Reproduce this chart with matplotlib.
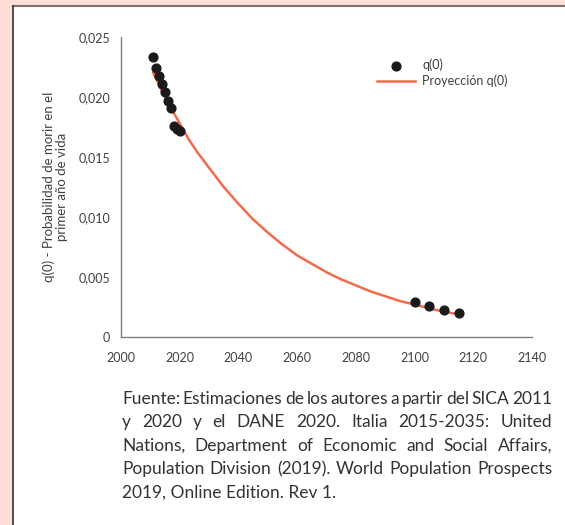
import matplotlib
matplotlib.use("Agg")
import matplotlib.pyplot as plt
from matplotlib.patches import Rectangle
from matplotlib.ticker import FuncFormatter

# --- Data ---
obs_years = [2011, 2012, 2013, 2014, 2015, 2016, 2017, 2018, 2019, 2020,
             2100, 2105, 2110, 2115]
obs_q0 = [0.02331, 0.02244, 0.02175, 0.02108, 0.02039, 0.01969, 0.01908,
          0.01758, 0.01736, 0.01719,
          0.00294, 0.00256, 0.00228, 0.00200]

proj_years = [2011, 2013, 2015, 2017, 2020, 2023, 2026, 2030, 2035, 2040,
              2045, 2050, 2055, 2060, 2065, 2070, 2075, 2080, 2085, 2090,
              2095, 2100, 2105, 2110, 2115]
proj_q0 = [0.0220, 0.0210, 0.0200, 0.0191, 0.0178, 0.0165, 0.0154, 0.0141,
           0.0125, 0.0111, 0.0098, 0.0087, 0.0077, 0.0068, 0.0061, 0.0054,
           0.0048, 0.0043, 0.0038, 0.0034, 0.0030, 0.0027, 0.0024, 0.0021,
           0.0019]

x_ticks = [2000, 2020, 2040, 2060, 2080, 2100, 2120, 2140]
y_ticks = [0, 0.005, 0.010, 0.015, 0.020, 0.025]

caption_lines = [
    "Fuente: Estimaciones de los autores a partir del SICA 2011",
    "y 2020 y el DANE 2020. Italia 2015-2035: United",
    "Nations, Department of Economic and Social Affairs,",
    "Population Division (2019). World Population Prospects",
    "2019, Online Edition. Rev 1.",
]

FONT = ["Lato", "DejaVu Sans"]
plt.rcParams["font.family"] = FONT

W, H = 565, 525
fig = plt.figure(figsize=(W / 100, H / 100), dpi=100)
fig.patch.set_facecolor("#fddfd7")

# white panel with grey border on top and left
fig.patches.append(Rectangle((13 / W, 0), 1, 1 - 6 / H, transform=fig.transFigure,
                             facecolor="white", edgecolor="none", zorder=-2))
fig.add_artist(plt.Line2D([12.5 / W, 1], [1 - 5.5 / H, 1 - 5.5 / H],
                          transform=fig.transFigure, color="#7a7070", lw=1.5, zorder=-1))
fig.add_artist(plt.Line2D([12.5 / W, 12.5 / W], [0, 1 - 5.5 / H],
                          transform=fig.transFigure, color="#3a3030", lw=1.2, zorder=-1))

ax = fig.add_axes([121 / W, 1 - 337 / H, (532 - 121) / W, 300 / H])
ax.set_zorder(2)
ax.set_facecolor("none")

ax.plot(proj_years, proj_q0, color="#f26b4a", lw=1.8, label="Proyección q(0)",
        zorder=2, solid_joinstyle="round")
ax.scatter(obs_years, obs_q0, s=40, color="#1a1a1a", label="q(0)", zorder=3)

ax.set_xlim(2000, 2140)
ax.set_ylim(0, 0.025)
ax.set_xticks(x_ticks)
ax.set_yticks(y_ticks)
ax.yaxis.set_major_formatter(FuncFormatter(
    lambda v, p: "0" if v == 0 else f"{v:.3f}".replace(".", ",")))

for s in ["top", "right"]:
    ax.spines[s].set_visible(False)
for s in ["left", "bottom"]:
    ax.spines[s].set_color("#808080")
    ax.spines[s].set_linewidth(1.0)
ax.tick_params(length=0, labelsize=9, labelcolor="#404040")
ax.tick_params(axis="x", pad=11)
ax.tick_params(axis="y", pad=8)

ax.set_ylabel("q(0) - Probabilidad de morir en el\nprimer año de vida",
              fontsize=9.5, color="#404040", labelpad=7, linespacing=1.15)

handles, labels = ax.get_legend_handles_labels()
ax.legend(handles[::-1], labels[::-1], loc="upper right",
          bbox_to_anchor=(514 / W, 1 - 52 / H), bbox_transform=fig.transFigure,
          frameon=False, fontsize=9, labelcolor="#404040",
          handlelength=3.0, handletextpad=0.6, borderpad=0, labelspacing=0.3)

# justified caption
x0, x1 = 122 / W, 552 / W
y_first = 399
line_step = 23.3
renderer = fig.canvas.get_renderer()
for i, line in enumerate(caption_lines):
    y = 1 - (y_first + i * line_step) / H
    words = line.split(" ")
    if i == len(caption_lines) - 1:
        fig.text(x0, y, line, fontsize=12.5, color="#333333", va="center")
        continue
    texts = [fig.text(0, y, w, fontsize=12.5, color="#333333", va="center") for w in words]
    widths = [t.get_window_extent(renderer).width / W for t in texts]
    gap = (x1 - x0 - sum(widths)) / (len(words) - 1)
    xpos = x0
    for t, w in zip(texts, widths):
        t.set_x(xpos)
        xpos += w + gap

fig.savefig("out.png", dpi=100, facecolor=fig.get_facecolor())
